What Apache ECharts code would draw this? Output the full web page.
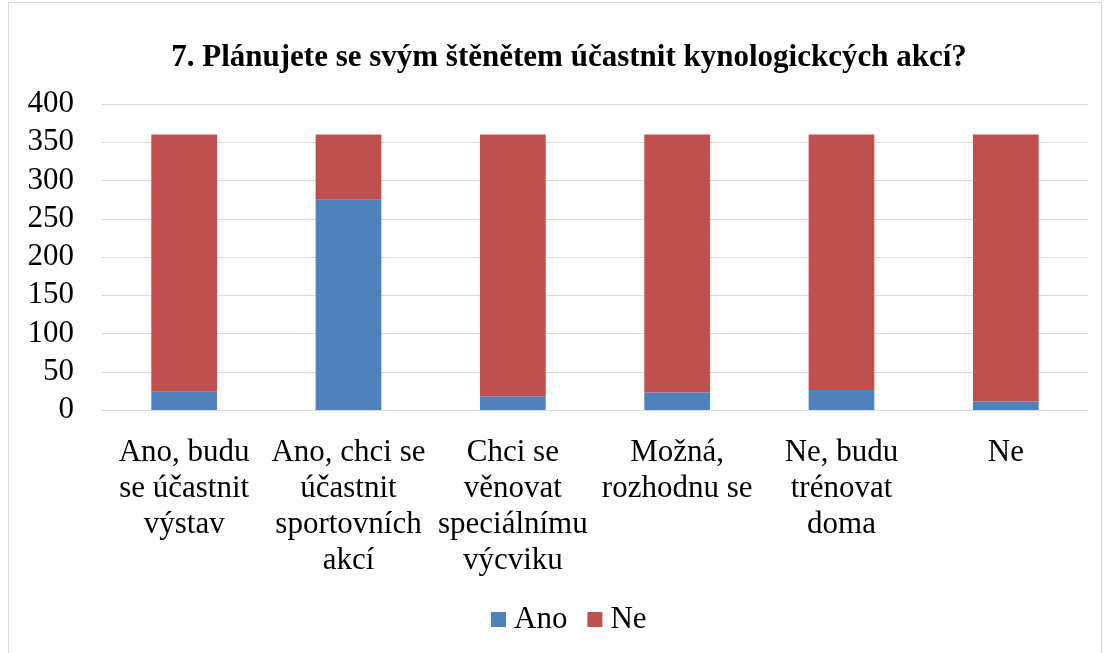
<!DOCTYPE html>
<html>
<head>
<meta charset="utf-8">
<script src="https://cdn.jsdelivr.net/npm/echarts@6/dist/echarts.min.js"></script>
<style>
  html, body { margin: 0; padding: 0; background: #fff; }
  #chart { width: 1106px; height: 653px; }
  #frame { position: absolute; left: 8px; top: 2px; width: 1092px; height: 660px; border: 1px solid #d9d9d9; pointer-events: none; }
</style>
</head>
<body>
<div id="chart"></div>
<div id="frame"></div>
<script>
// kategorie a hodnoty
var categories = [
  'Ano, budu\nse účastnit\nvýstav',
  'Ano, chci se\núčastnit\nsportovních\nakcí',
  'Chci se\nvěnovat\nspeciálnímu\nvýcviku',
  'Možná,\nrozhodnu se',
  'Ne, budu\ntrénovat\ndoma',
  'Ne'
];
var anoValues = [24, 275, 18, 23, 26, 11];
var neValues = [336, 85, 342, 337, 334, 349];
var yTicks = [0, 50, 100, 150, 200, 250, 300, 350, 400];

var font = '"Liberation Serif", "Times New Roman", serif';

var myChart = echarts.init(document.getElementById('chart'));
var option = {
  animation: false,
  title: {
    text: '7. Plánujete se svým štěnětem účastnit kynologickcých akcí?',
    left: 564,
    textAlign: 'center',
    top: 37,
    textStyle: { fontFamily: font, fontSize: 31, fontWeight: 'bold', color: '#000' }
  },
  legend: {
    data: ['Ano', 'Ne'],
    bottom: 13,
    left: 486,
    icon: 'rect',
    itemWidth: 15,
    itemHeight: 15,
    itemGap: 20,
    textStyle: { fontFamily: font, fontSize: 31, color: '#000', padding: [0, 0, 0, 3] }
  },
  grid: { left: 102, right: 18, top: 104, bottom: 243 },
  xAxis: {
    type: 'category',
    data: categories,
    axisTick: { show: false },
    axisLine: { lineStyle: { color: '#d9d9d9', width: 1 } },
    axisLabel: {
      interval: 0,
      margin: 25,
      fontFamily: font,
      fontSize: 31,
      lineHeight: 36,
      color: '#000'
    }
  },
  yAxis: {
    type: 'value',
    min: yTicks[0],
    max: yTicks[yTicks.length - 1],
    interval: 50,
    axisLine: { show: false },
    axisTick: { show: false },
    splitLine: { lineStyle: { color: '#d9d9d9', width: 1 } },
    axisLabel: { margin: 28, fontFamily: font, fontSize: 31, color: '#000' }
  },
  series: [
    {
      name: 'Ano',
      type: 'bar',
      stack: 'a',
      barWidth: '40%',
      data: anoValues,
      itemStyle: { color: '#4f81bd' }
    },
    {
      name: 'Ne',
      type: 'bar',
      stack: 'a',
      data: neValues,
      itemStyle: { color: '#c0504d' }
    }
  ]
};
myChart.setOption(option);
</script>
</body>
</html>
